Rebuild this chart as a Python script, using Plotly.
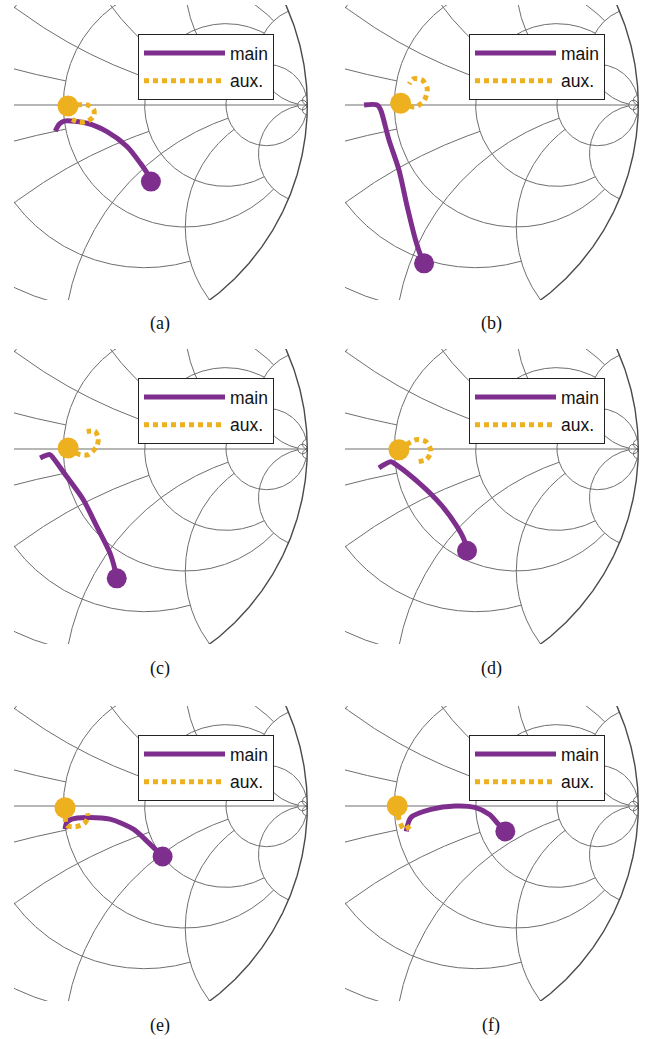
import numpy as np
import plotly.graph_objects as go

W, H = 652, 1039

# ---- Smith chart grid (pgfplots-like, clipped grid lines) ----
R_TICKS = [0.2, 0.5, 1, 2, 5, 50]
R_STOP = [1, 2, 5, 5, 50, None]      # |x| at which each r-circle stops (None = full)
X_TICKS = [0.2, 0.5, 1, 2, 5, 50]
X_STOP = [1, 2, 5, 5, 50, None]      # r at which each x-arc stops (None = to Gamma=1)

CAPTIONS = ["(a)", "(b)", "(c)", "(d)", "(e)", "(f)"]
LEGEND_NAMES = ["main", "aux."]

# ---- trajectories (reflection coefficient, real / imag) ----
main_re_a = [-0.033, -0.016, 0.004, 0.097, 0.179, 0.261, 0.316, 0.348, 0.359]
main_im_a = [-0.107, -0.078, -0.066, -0.075, -0.109, -0.170, -0.239, -0.287, -0.314]
aux_re_a = [0.019, 0.080, 0.100, 0.125, 0.125, 0.100, 0.067, 0.036]
aux_im_a = [-0.004, 0.002, 0.000, -0.020, -0.045, -0.066, -0.071, -0.059]

main_re_b = [-0.124, -0.070, -0.056, -0.022, 0.019, 0.053, 0.087, 0.115, 0.122]
main_im_b = [0.000, 0.000, -0.020, -0.143, -0.266, -0.417, -0.553, -0.635, -0.649]
aux_re_b = [0.026, 0.086, 0.123, 0.135, 0.115, 0.078, 0.061]
aux_im_b = [0.007, -0.008, 0.020, 0.066, 0.102, 0.107, 0.086]

main_re_c = [-0.095, -0.055, -0.041, 0.014, 0.082, 0.137, 0.191, 0.212, 0.219]
main_im_c = [-0.037, -0.023, -0.037, -0.113, -0.208, -0.317, -0.426, -0.495, -0.530]
aux_re_c = [0.020, 0.068, 0.102, 0.137, 0.143, 0.130, 0.096]
aux_im_c = [0.004, -0.023, -0.023, 0.011, 0.045, 0.072, 0.072]

main_re_d = [-0.063, -0.014, 0.007, 0.109, 0.191, 0.252, 0.286, 0.298]
main_im_d = [-0.077, -0.052, -0.064, -0.146, -0.228, -0.310, -0.372, -0.417]
aux_re_d = [0.019, 0.089, 0.130, 0.150, 0.130, 0.089]
aux_im_d = [-0.003, 0.038, 0.030, -0.011, -0.044, -0.052]

main_re_e = [0.007, 0.014, 0.034, 0.096, 0.191, 0.287, 0.348, 0.383, 0.407]
main_im_e = [-0.095, -0.068, -0.054, -0.047, -0.054, -0.095, -0.149, -0.183, -0.207]
aux_re_e = [0.007, 0.015, 0.050, 0.085, 0.100, 0.100]
aux_im_e = [-0.007, -0.080, -0.085, -0.072, -0.050, -0.030]

main_re_f = [0.049, 0.068, 0.150, 0.250, 0.330, 0.390, 0.426, 0.455]
main_im_f = [-0.104, -0.047, -0.014, 0.000, -0.006, -0.035, -0.074, -0.104]
aux_re_f = [0.012, 0.020, 0.041, 0.068]
aux_im_f = [0.000, -0.058, -0.096, -0.078]

MAINS = [(main_re_a, main_im_a), (main_re_b, main_im_b), (main_re_c, main_im_c),
         (main_re_d, main_im_d), (main_re_e, main_im_e), (main_re_f, main_im_f)]
AUXS = [(aux_re_a, aux_im_a), (aux_re_b, aux_im_b), (aux_re_c, aux_im_c),
        (aux_re_d, aux_im_d), (aux_re_e, aux_im_e), (aux_re_f, aux_im_f)]

PURPLE = "#7E2F8E"
ORANGE = "#EDB120"
GRID = "#6e6e6e"


def gam(z):
    return (z - 1) / (z + 1)


def r_circle(a, xm):
    lim = np.arctan(xm) if xm is not None else np.pi / 2 - 1e-6
    u = np.linspace(-lim, lim, 900)
    return gam(a + 1j * np.tan(u))


def x_arc(b, rm):
    lim = np.arctan(rm) if rm is not None else np.pi / 2 - 1e-6
    u = np.linspace(0, lim, 600)
    return gam(np.tan(u) + 1j * b)


gx, gy = [], []
for a, xm in zip(R_TICKS, R_STOP):
    g = r_circle(a, xm)
    gx += list(g.real) + [None]
    gy += list(g.imag) + [None]
for b, rm in zip(X_TICKS, X_STOP):
    for s in (1, -1):
        g = x_arc(s * b, rm)
        gx += list(g.real) + [None]
        gy += list(g.imag) + [None]
gx += [-1, 1, None]
gy += [0, 0, None]
th = np.linspace(0, 2 * np.pi, 1500)
ox, oy = list(np.cos(th)), list(np.sin(th))

# panel geometry (pixels)
PW, PH = 296, 295
G0X, G0Y = 49.3, 100.0   # position of Gamma=0 inside panel
SCALE = 244.0
COLS = [14, 345]
ROWS = [5, 349, 706]
XR = [-G0X / SCALE, (PW - G0X) / SCALE]
YR = [-(PH - G0Y) / SCALE, G0Y / SCALE]

fig = go.Figure()
layout = dict(width=W, height=H, margin=dict(l=0, r=0, t=0, b=0),
              paper_bgcolor="white", plot_bgcolor="white", showlegend=True)
annotations = []

for k in range(6):
    col, row = k % 2, k // 2
    left, top = COLS[col], ROWS[row]
    ax = "" if k == 0 else str(k + 1)
    xa, ya = "x" + ax, "y" + ax
    lg = "legend" if k == 0 else "legend" + str(k + 1)
    layout["xaxis" + ax] = dict(domain=[left / W, (left + PW) / W], range=XR, visible=False,
                                fixedrange=True, anchor=ya)
    layout["yaxis" + ax] = dict(domain=[1 - (top + PH) / H, 1 - top / H], range=YR,
                                visible=False, fixedrange=True, anchor=xa)
    fig.add_trace(go.Scatter(x=gx, y=gy, mode="lines", line=dict(color=GRID, width=1),
                             xaxis=xa, yaxis=ya, showlegend=False, hoverinfo="skip"))
    fig.add_trace(go.Scatter(x=ox, y=oy, mode="lines", line=dict(color="#4a4a4a", width=1.4),
                             xaxis=xa, yaxis=ya, showlegend=False, hoverinfo="skip"))
    mre, mim = MAINS[k]
    are, aim = AUXS[k]
    fig.add_trace(go.Scatter(x=mre, y=mim, mode="lines", name=LEGEND_NAMES[0],
                             line=dict(color=PURPLE, width=5, shape="spline", smoothing=0.8),
                             xaxis=xa, yaxis=ya, legend=lg, legendgroup="m", showlegend=True))
    fig.add_trace(go.Scatter(x=are, y=aim, mode="lines", name=LEGEND_NAMES[1],
                             line=dict(color=ORANGE, width=5, dash="5px,4px", shape="spline",
                                       smoothing=0.8),
                             xaxis=xa, yaxis=ya, legend=lg, legendgroup="a", showlegend=True))
    fig.add_trace(go.Scatter(x=[mre[-1]], y=[mim[-1]], mode="markers",
                             marker=dict(color=PURPLE, size=20), xaxis=xa, yaxis=ya,
                             showlegend=False))
    fig.add_trace(go.Scatter(x=[are[0]], y=[aim[0]], mode="markers",
                             marker=dict(color=ORANGE, size=21), xaxis=xa, yaxis=ya,
                             showlegend=False))
    layout[lg] = dict(x=(left + 124) / W, y=1 - (top + 29) / H, xanchor="left", yanchor="top",
                      bgcolor="white", bordercolor="#222222", borderwidth=1,
                      font=dict(family="Liberation Sans, Arial, sans-serif", size=17.5, color="#111"),
                      itemwidth=81, tracegroupgap=2, traceorder="grouped")
    annotations.append(dict(x=(left + 146) / W, y=1 - (top + 319) / H, xref="paper", yref="paper",
                            text=CAPTIONS[k], showarrow=False, xanchor="center", yanchor="middle",
                            font=dict(family="Liberation Serif, Times New Roman, serif", size=18,
                                      color="#111")))

layout["annotations"] = annotations
fig.update_layout(**layout)
fig.write_html("out.html", post_script="document.body.style.margin='0px';",
               config={"displayModeBar": False})
